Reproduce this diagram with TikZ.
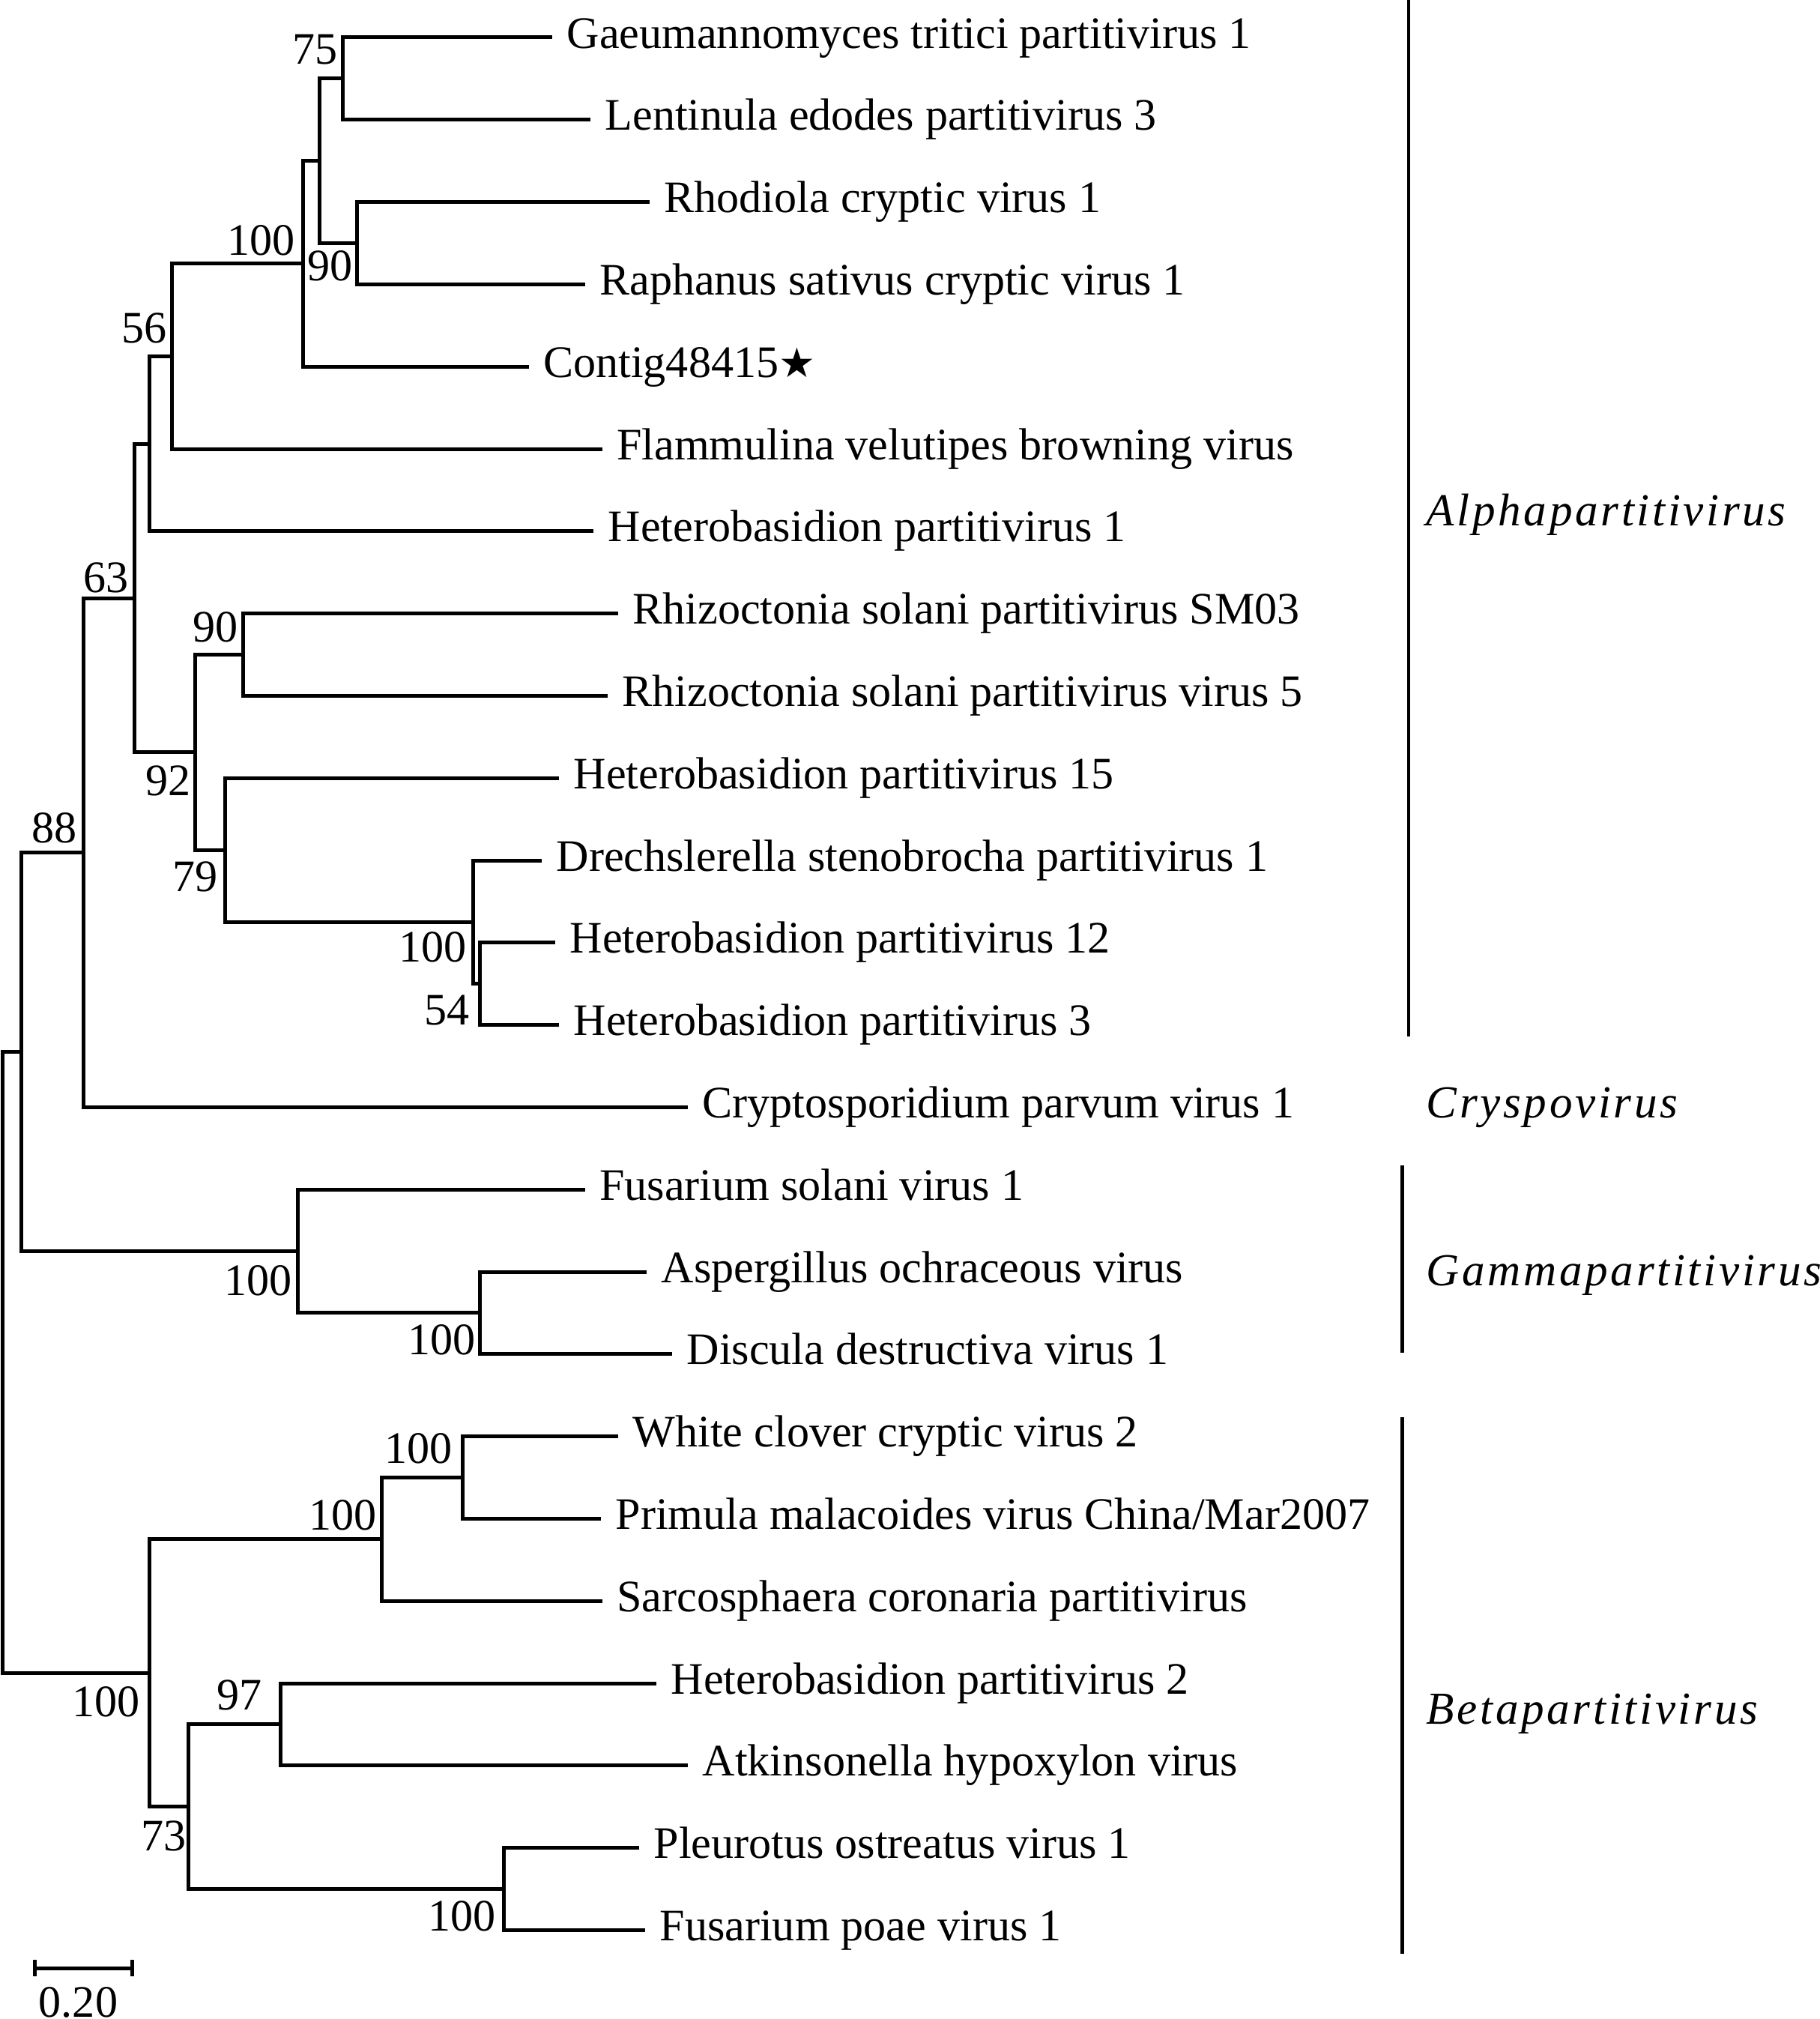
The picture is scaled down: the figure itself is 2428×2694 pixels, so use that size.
\documentclass[tikz,border=0pt]{standalone}
\usepackage{fontspec}
\setmainfont{Liberation Serif}
\newfontfamily\genusfont[LetterSpace=6]{Liberation Serif}
\newfontfamily\symbfont{DejaVu Sans}
\usetikzlibrary{positioning}

\begin{document}
\begin{tikzpicture}[x=0.1mm, y=-0.1mm,
  font=\fontsize{17.1}{20}\selectfont,
  branch/.style={line width=0.5mm},
  leaf/.style={anchor=west, inner xsep=1.9mm, inner ysep=0pt, text height=12.2pt, text depth=4.2pt},
  boot/.style={inner sep=0pt},
  genus/.style={anchor=base west, inner sep=0pt, font=\genusfont\itshape\fontsize{17.4}{20}\selectfont}]

\useasboundingbox (0,0) rectangle (2428,2694);

% Blaetter
\node[leaf] (l1)  at (737,50)      {Gaeumannomyces tritici partitivirus 1};
\node[leaf] (l2)  at (788,159.8)   {Lentinula edodes partitivirus 3};
\node[leaf] (l3)  at (867,269.6)   {Rhodiola cryptic virus 1};
\node[leaf] (l4)  at (780.6,379.4) {Raphanus sativus cryptic virus 1};
\node[leaf] (l5)  at (705.6,489.2) {Contig48415{\symbfont\fontsize{15.5}{16}\selectfont ★}};
\node[leaf] (l6)  at (803.6,599)   {Flammulina velutipes browning virus};
\node[leaf] (l7)  at (792,708.8)   {Heterobasidion partitivirus 1};
\node[leaf] (l8)  at (825,818.6)   {Rhizoctonia solani partitivirus SM03};
\node[leaf] (l9)  at (811,928.4)   {Rhizoctonia solani partitivirus virus 5};
\node[leaf] (l10) at (746,1038.2)  {Heterobasidion partitivirus 15};
\node[leaf] (l11) at (723,1148)    {Drechslerella stenobrocha partitivirus 1};
\node[leaf] (l12) at (741,1257.8)  {Heterobasidion partitivirus 12};
\node[leaf] (l13) at (746,1367.6)  {Heterobasidion partitivirus 3};
\node[leaf] (l14) at (918,1477.4)  {Cryptosporidium parvum virus 1};
\node[leaf] (l15) at (780.6,1587.2) {Fusarium solani virus 1};
\node[leaf] (l16) at (863,1697)    {Aspergillus ochraceous virus};
\node[leaf] (l17) at (897,1806.8)  {Discula destructiva virus 1};
\node[leaf] (l18) at (825,1916.6)  {White clover cryptic virus 2};
\node[leaf] (l19) at (802,2026.4)  {Primula malacoides virus China/Mar2007};
\node[leaf] (l20) at (803.6,2136.2) {Sarcosphaera coronaria partitivirus};
\node[leaf] (l21) at (876,2246)    {Heterobasidion partitivirus 2};
\node[leaf] (l22) at (918,2355.8)  {Atkinsonella hypoxylon virus};
\node[leaf] (l23) at (853,2465.6)  {Pleurotus ostreatus virus 1};
\node[leaf] (l24) at (861,2575.4)  {Fusarium poae virus 1};

% innere Knoten
\coordinate (n75)   at (457.6,104.9);
\coordinate (n90a)  at (476.8,324.5);
\coordinate (nA)    at (426.3,214.7);
\coordinate (nB)    at (404,351.9);
\coordinate (n56)   at (229.6,475.5);
\coordinate (nC)    at (199,592.1);
\coordinate (n90b)  at (324.5,873.5);
\coordinate (n54)   at (640,1312.7);
\coordinate (n100d) at (631.4,1230.3);
\coordinate (n79)   at (300,1134.3);
\coordinate (n92)   at (260.2,1003.9);
\coordinate (nD)    at (179,798);
\coordinate (n88)   at (111.7,1137.7);
\coordinate (ng2)   at (640,1751.9);
\coordinate (ng1)   at (397,1669.5);
\coordinate (nX)    at (28,1403.6);
\coordinate (nb100a) at (617,1971.5);
\coordinate (nb100b) at (509,2053.9);
\coordinate (n97)   at (374,2300.9);
\coordinate (nb100c) at (672,2520.5);
\coordinate (n73)   at (251,2410.7);
\coordinate (nb100d) at (199,2232.3);
\coordinate (root)  at (3.8,1818);

% Aeste
\foreach \p/\c in {root/nX, root/nb100d, nX/n88, nX/ng1, n88/nD, n88/l14,
    nD/nC, nD/n92, nC/n56, nC/l7, n56/nB, n56/l6, nB/nA, nB/l5,
    nA/n75, nA/n90a, n75/l1, n75/l2, n90a/l3, n90a/l4,
    n92/n90b, n92/n79, n90b/l8, n90b/l9, n79/l10, n79/n100d,
    n100d/l11, n100d/n54, n54/l12, n54/l13,
    ng1/l15, ng1/ng2, ng2/l16, ng2/l17,
    nb100d/nb100b, nb100d/n73, nb100b/nb100a, nb100b/l20,
    nb100a/l18, nb100a/l19, n73/n97, n73/nb100c,
    n97/l21, n97/l22, nb100c/l23, nb100c/l24}
  \draw[branch] (\p) |- (\c);

% Bootstrap-Werte
\node[boot, anchor=south east] (b75)    at (451,87)     {75};
\node[boot, anchor=north east] (b90a)   at (471,334)    {90};
\node[boot, anchor=south east] (bB)     at (394,342)    {100};
\node[boot, anchor=south east] (b56)    at (223.5,459)  {56};
\node[boot, anchor=south east] (b63)    at (172,792)    {63};
\node[boot, anchor=south east] (b90b)   at (318,858)    {90};
\node[boot, anchor=north east] (b92)    at (255,1021)   {92};
\node[boot, anchor=north east] (b79)    at (291,1149)   {79};
\node[boot, anchor=north east] (b100d)  at (623.7,1243) {100};
\node[boot, anchor=north east] (b54)    at (627.5,1327.5) {54};
\node[boot, anchor=south east] (b88)    at (103,1126)   {88};
\node[boot, anchor=north east] (bg1)    at (390,1688)   {100};
\node[boot, anchor=north east] (bg2)    at (635,1767)   {100};
\node[boot, anchor=south east] (bb100a) at (604.6,1954) {100};
\node[boot, anchor=south east] (bb100b) at (503.6,2043) {100};
\node[boot, anchor=south east] (b97)    at (350.5,2283) {97};
\node[boot, anchor=north east] (b73)    at (249,2429)   {73};
\node[boot, anchor=north east] (bb100c) at (662,2535.5) {100};
\node[boot, anchor=north east] (bb100d) at (187.5,2250) {100};

% Gattungen
\draw[line width=0.45mm] (1880,0) -- (1880,1383);
\draw[line width=0.45mm] (1871.6,1555) -- (1871.6,1805);
\draw[line width=0.45mm] (1871.6,1891) -- (1871.6,2606.6);
\node[genus] (alpha) at (1903,701.6)  {Alphapartitivirus};
\node[genus] (crysp) at (1903,1491)   {Cryspovirus};
\node[genus] (gamma) at (1903,1715.6) {Gammapartitivirus};
\node[genus] (beta)  at (1903,2300.5) {Betapartitivirus};

% Massstab
\draw[branch] (46,2615) -- (46,2637) (46,2626) -- (176,2626) (176,2615) -- (176,2637);
\node[boot, anchor=north] (scale) at (104.5,2651) {0.20};

\end{tikzpicture}
\end{document}
